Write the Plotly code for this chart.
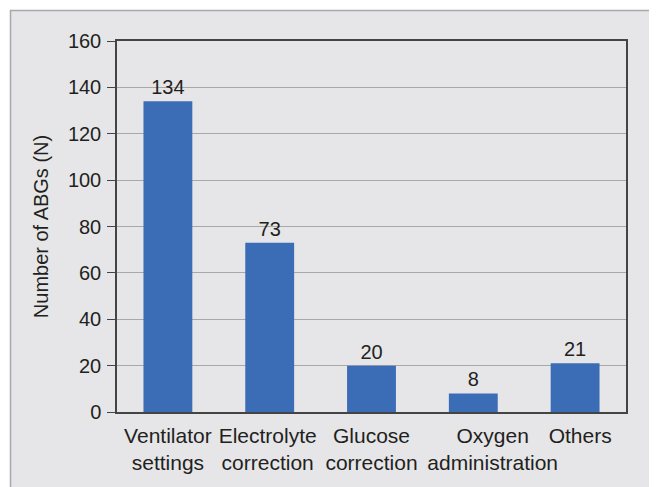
import plotly.graph_objects as go

categories = ["Ventilator<br>settings", "Electrolyte<br>correction", "Glucose<br>correction",
              "Oxygen<br>administration", "Others"]
values = [134, 73, 20, 8, 21]
y_ticks = [0, 20, 40, 60, 80, 100, 120, 140, 160]

# page body has an 8px margin, so the figure starts at (8, 8) of the window
OFF = 8
W, H = 657 - OFF, 487 - OFF
L, R, T, B = 117 - OFF, 31, 41 - OFF, 75
pw, ph = W - L - R, H - T - B

def px_x(x):
    return (x - OFF - L) / pw

def px_y(y):
    return (H - B - (y - OFF)) / ph

font_family = "Liberation Sans, Arial, sans-serif"
text_color = "#231f20"

positions = list(range(len(categories)))
# label centres in the reference are nudged off their bars to avoid collisions
label_nudge = [0.0, -0.02, 0.0, 0.19, 0.05]
label_pos = [p + d for p, d in zip(positions, label_nudge)]

fig = go.Figure(go.Bar(
    x=positions, y=values, width=0.48,
    marker=dict(color="#3a6db6", line=dict(width=0)),
    text=[str(v) for v in values], textposition="outside",
    textfont=dict(size=20, color=text_color, family=font_family),
    cliponaxis=False,
))

fig.add_shape(type="rect", xref="paper", yref="paper",
              x0=px_x(10.5), x1=px_x(700), y0=px_y(10.5), y1=px_y(520),
              fillcolor="#e6e6e8", line=dict(color="#a9a9a9", width=1.5), layer="below")

fig.update_layout(
    width=W, height=H,
    margin=dict(l=L, r=R, t=T, b=B, pad=0, autoexpand=False),
    paper_bgcolor="white", plot_bgcolor="white",
    font=dict(family=font_family, size=20, color=text_color),
    showlegend=False,
    xaxis=dict(range=[-0.5, len(categories) - 0.5], tickvals=label_pos, ticktext=categories,
               showline=True, linecolor="#444444", linewidth=1.5, mirror=True,
               showgrid=False, zeroline=False,
               ticks="", tickfont=dict(size=21), tickangle=0, automargin=False,
               ticklabelstandoff=4, fixedrange=True),
    yaxis=dict(range=[0, 160], tickvals=y_ticks, showline=True, linecolor="#444444",
               linewidth=1.5, mirror=True, ticks="outside", ticklen=8, tickcolor="#444444",
               tickwidth=1.2, showgrid=True, gridcolor="#a8a8a8", gridwidth=1,
               zeroline=False, tickfont=dict(size=20), automargin=False,
               ticklabelstandoff=2,
               title=dict(text="Number of ABGs (N)", font=dict(size=20), standoff=14)),
)

fig.write_html("out.html")
